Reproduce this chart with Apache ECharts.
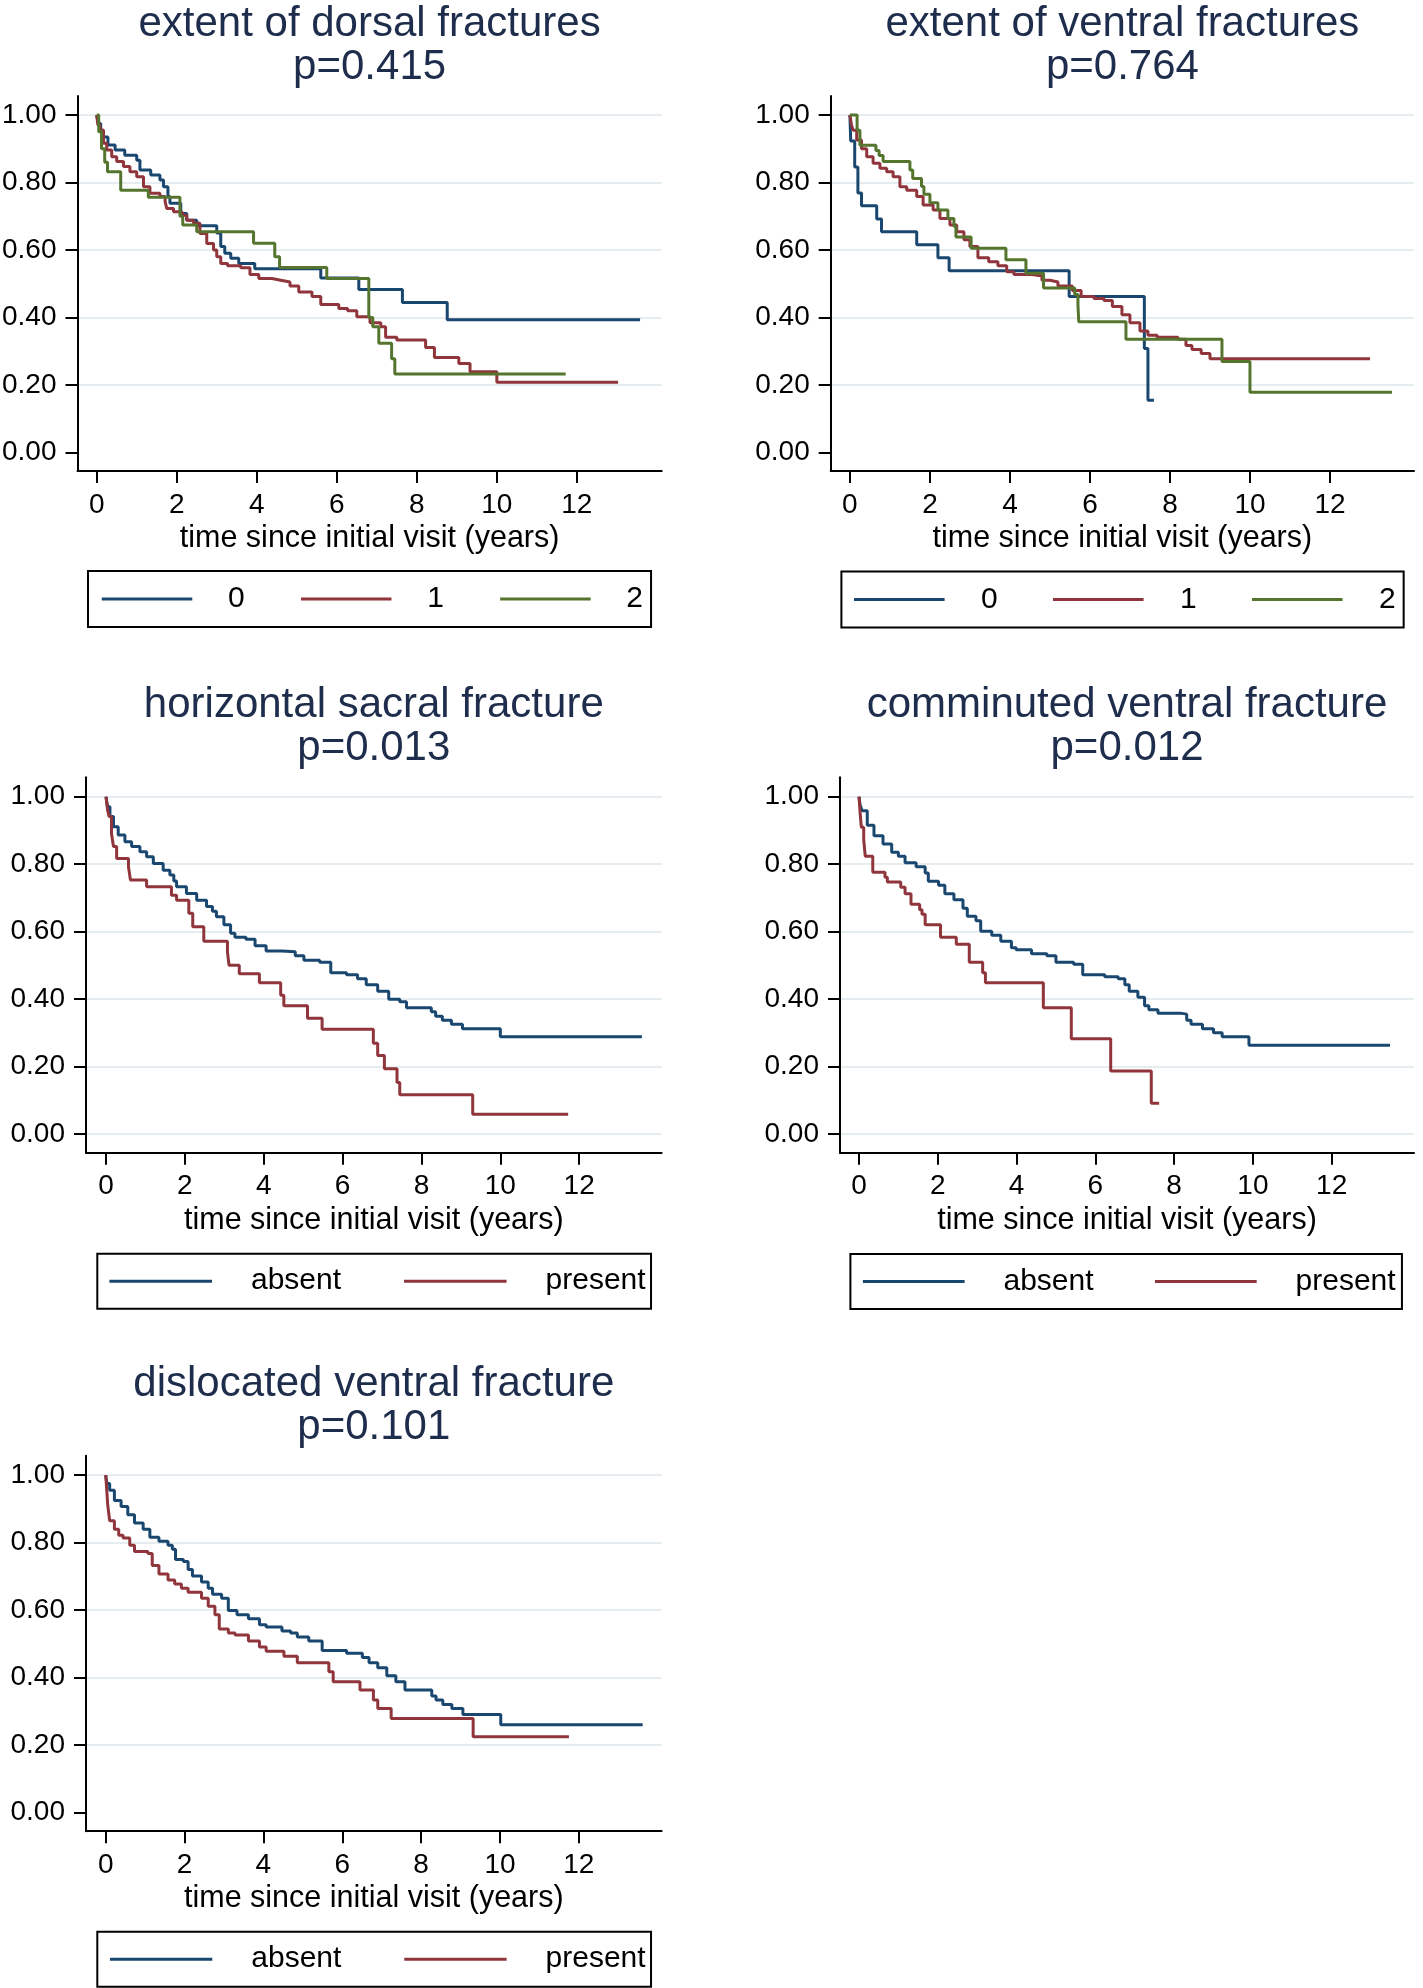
<!DOCTYPE html>
<html><head><meta charset="utf-8">
<script src="https://cdn.jsdelivr.net/npm/echarts@6/dist/echarts.min.js"></script>
<style>html,body{margin:0;padding:0;background:#fff}#c{width:1423px;height:1988px}</style>
</head><body><div id="c"></div>
<script>
// ===================== DATA =====================
const xTicks = [0, 2, 4, 6, 8, 10, 12];
const yTicks = [0, 0.2, 0.4, 0.6, 0.8, 1.0];
const xTitle = 'time since initial visit (years)';
const panelTitles = ['extent of dorsal fractures', 'extent of ventral fractures', 'horizontal sacral fracture', 'comminuted ventral fracture', 'dislocated ventral fracture'];
const pValues = ['p=0.415', 'p=0.764', 'p=0.013', 'p=0.012', 'p=0.101'];
const extentGroups = ['0', '1', '2'];
const presenceGroups = ['absent', 'present'];

// Kaplan-Meier estimates [time (years), survival]
const dorsal0 = [[0,1],[0.04,0.975],[0.1,0.955],[0.17,0.935],[0.28,0.911],[0.46,0.896],[0.7,0.881],[1.0,0.866],[1.08,0.837],[1.35,0.822],[1.58,0.807],[1.67,0.787],[1.78,0.758],[1.83,0.738],[2.1,0.708],[2.25,0.688],[2.5,0.672],[3.0,0.65],[3.1,0.61],[3.2,0.59],[3.35,0.575],[3.55,0.56],[3.95,0.544],[5.6,0.517],[6.55,0.483],[7.64,0.444],[8.76,0.393],[13.58,0.393]];
const dorsal1 = [[0,1],[0.03,0.97],[0.08,0.955],[0.17,0.916],[0.25,0.896],[0.375,0.876],[0.5,0.862],[0.67,0.847],[0.83,0.832],[1.0,0.817],[1.17,0.787],[1.33,0.768],[1.58,0.758],[1.71,0.743],[1.75,0.723],[1.92,0.713],[2.13,0.703],[2.25,0.688],[2.42,0.679],[2.58,0.649],[2.75,0.619],[2.92,0.60],[3.0,0.58],[3.1,0.56],[3.27,0.553],[3.6,0.547],[3.83,0.527],[4.05,0.515],[4.38,0.51],[4.6,0.505],[4.83,0.493],[5.05,0.475],[5.38,0.462],[5.6,0.438],[6.05,0.426],[6.27,0.42],[6.5,0.402],[6.83,0.384],[7.1,0.372],[7.22,0.341],[7.5,0.333],[8.22,0.311],[8.44,0.281],[9.05,0.263],[9.33,0.239],[10.0,0.208],[13.03,0.208]];
const dorsal2 = [[0,1],[0.05,0.95],[0.12,0.9],[0.2,0.86],[0.27,0.832],[0.6,0.777],[1.29,0.756],[2.08,0.70],[2.15,0.674],[2.5,0.654],[3.92,0.62],[4.45,0.58],[4.57,0.548],[5.75,0.515],[6.8,0.40],[6.9,0.372],[7.05,0.323],[7.37,0.277],[7.45,0.232],[11.72,0.232]];

const ventral0 = [[0,1],[0.02,0.923],[0.12,0.846],[0.2,0.769],[0.29,0.731],[0.67,0.692],[0.79,0.654],[1.67,0.615],[2.2,0.577],[2.48,0.538],[5.48,0.462],[7.36,0.308],[7.45,0.154],[7.6,0.154]];
const ventral1 = [[0,1],[0.04,0.97],[0.08,0.955],[0.17,0.926],[0.29,0.90],[0.42,0.876],[0.58,0.857],[0.75,0.842],[0.92,0.832],[1.08,0.817],[1.25,0.787],[1.42,0.777],[1.67,0.758],[1.83,0.733],[2.08,0.718],[2.25,0.693],[2.5,0.674],[2.67,0.654],[2.85,0.63],[3.0,0.61],[3.2,0.577],[3.47,0.565],[3.7,0.553],[3.92,0.535],[4.1,0.527],[4.55,0.523],[4.8,0.51],[5.0,0.505],[5.2,0.493],[5.56,0.48],[5.78,0.462],[6.1,0.456],[6.35,0.45],[6.56,0.432],[6.8,0.408],[7.0,0.384],[7.25,0.36],[7.45,0.347],[7.68,0.341],[8.2,0.335],[8.4,0.317],[8.55,0.305],[8.78,0.293],[9.0,0.277],[13.0,0.277]];
const ventral2 = [[0,1],[0.18,0.955],[0.25,0.91],[0.65,0.895],[0.73,0.88],[0.83,0.862],[1.5,0.837],[1.57,0.812],[1.79,0.788],[1.85,0.765],[2.0,0.74],[2.2,0.718],[2.45,0.693],[2.6,0.67],[2.65,0.638],[3.03,0.605],[3.9,0.571],[4.4,0.531],[4.84,0.487],[5.62,0.468],[5.7,0.438],[5.72,0.387],[6.9,0.335],[9.3,0.269],[10.0,0.178],[13.55,0.178]];

const sacralAbsent = [[0,1],[0.04,0.97],[0.1,0.941],[0.19,0.911],[0.31,0.886],[0.48,0.866],[0.65,0.852],[0.86,0.837],[1.03,0.822],[1.2,0.802],[1.45,0.782],[1.62,0.768],[1.72,0.75],[1.79,0.733],[2.04,0.713],[2.3,0.693],[2.55,0.674],[2.7,0.66],[2.8,0.644],[2.99,0.62],[3.16,0.595],[3.27,0.583],[3.55,0.577],[3.78,0.558],[4.06,0.542],[4.46,0.54],[4.8,0.528],[5.02,0.515],[5.42,0.509],[5.7,0.478],[6.1,0.472],[6.38,0.46],[6.6,0.442],[6.89,0.423],[7.17,0.399],[7.45,0.392],[7.62,0.374],[8.25,0.362],[8.36,0.349],[8.53,0.337],[8.76,0.325],[9.04,0.312],[10.0,0.288],[13.59,0.288]];
const sacralPresent = [[0,1],[0.04,0.96],[0.08,0.941],[0.14,0.89],[0.19,0.852],[0.27,0.817],[0.57,0.792],[0.62,0.753],[1.03,0.733],[1.66,0.708],[1.79,0.693],[2.1,0.654],[2.2,0.614],[2.48,0.571],[3.08,0.54],[3.12,0.50],[3.38,0.475],[3.89,0.448],[4.43,0.411],[4.51,0.38],[5.11,0.343],[5.48,0.31],[6.78,0.269],[6.89,0.232],[7.06,0.193],[7.38,0.152],[7.45,0.116],[9.3,0.058],[11.72,0.058]];

const comminutedAbsent = [[0,1],[0.03,0.975],[0.08,0.958],[0.21,0.915],[0.38,0.884],[0.61,0.86],[0.83,0.835],[1.0,0.823],[1.17,0.804],[1.45,0.792],[1.68,0.774],[1.76,0.749],[2.02,0.737],[2.18,0.712],[2.41,0.694],[2.64,0.669],[2.75,0.645],[2.97,0.632],[3.09,0.601],[3.37,0.589],[3.6,0.571],[3.87,0.552],[3.99,0.546],[4.38,0.534],[4.77,0.528],[5.0,0.509],[5.45,0.503],[5.68,0.472],[6.24,0.466],[6.58,0.46],[6.75,0.442],[6.86,0.423],[7.08,0.405],[7.25,0.38],[7.36,0.368],[7.59,0.358],[8.15,0.355],[8.32,0.337],[8.43,0.325],[8.72,0.312],[9.0,0.30],[9.22,0.288],[9.9,0.263],[13.48,0.263]];
const comminutedPresent = [[0,1],[0.03,0.95],[0.06,0.909],[0.12,0.872],[0.16,0.823],[0.35,0.776],[0.66,0.761],[0.72,0.747],[1.06,0.731],[1.17,0.712],[1.32,0.681],[1.54,0.665],[1.6,0.651],[1.68,0.62],[2.07,0.583],[2.47,0.562],[2.8,0.509],[3.14,0.478],[3.21,0.448],[4.68,0.374],[5.39,0.282],[6.39,0.186],[7.42,0.091],[7.62,0.091]];

const dislocatedAbsent = [[0,1],[0.03,0.975],[0.1,0.955],[0.22,0.925],[0.39,0.907],[0.56,0.883],[0.73,0.858],[0.95,0.84],[1.12,0.816],[1.35,0.804],[1.58,0.792],[1.69,0.78],[1.77,0.75],[1.97,0.744],[2.09,0.72],[2.2,0.701],[2.43,0.683],[2.6,0.665],[2.71,0.647],[2.94,0.635],[3.11,0.599],[3.33,0.586],[3.62,0.574],[3.9,0.556],[4.07,0.55],[4.47,0.538],[4.69,0.532],[4.86,0.52],[5.15,0.508],[5.49,0.48],[6.11,0.472],[6.51,0.459],[6.68,0.444],[6.9,0.429],[7.13,0.405],[7.36,0.387],[7.59,0.363],[8.27,0.345],[8.38,0.333],[8.55,0.32],[8.78,0.308],[9.06,0.29],[10.02,0.26],[13.62,0.26]];
const dislocatedPresent = [[0,1],[0.03,0.95],[0.05,0.913],[0.1,0.865],[0.22,0.84],[0.33,0.822],[0.44,0.814],[0.61,0.792],[0.73,0.774],[1.07,0.768],[1.18,0.732],[1.35,0.707],[1.58,0.689],[1.75,0.677],[1.92,0.665],[2.09,0.653],[2.43,0.635],[2.6,0.611],[2.77,0.586],[2.88,0.544],[3.11,0.532],[3.28,0.526],[3.62,0.508],[3.9,0.49],[4.07,0.478],[4.52,0.463],[4.86,0.444],[5.66,0.417],[5.77,0.387],[6.45,0.363],[6.79,0.333],[6.9,0.308],[7.24,0.278],[9.32,0.224],[11.75,0.224]];

// ===================== STYLE / LAYOUT =====================
const FONT = '"Liberation Sans", Arial, Helvetica, sans-serif';
const LINE_COLORS = ['#1a476f', '#90353b', '#55752f'];
const GRID_COLOR = '#e6edf0';
const TITLE_COLOR = '#1e2d4c';

const panels = [
  { grid:{left:77.5, top:96, width:584.2, height:375}, x:[-0.48,14.12], y:[-0.0554,1.0563],
    gridVals:[0.2,0.4,0.6,0.8,1.0], titleX:369.6, titleTop:3,
    names:extentGroups, data:[dorsal0, dorsal1, dorsal2],
    legend:{left:88, top:571, padding:[13,8,13,13.8], itemWidth:90.5, textPad:30.7, itemGap:56.3} },
  { grid:{left:830.7, top:96, width:583.3, height:375}, x:[-0.48,14.1], y:[-0.0554,1.0563],
    gridVals:[0.2,0.4,0.6,0.8,1.0], titleX:1122.4, titleTop:3,
    names:extentGroups, data:[ventral0, ventral1, ventral2],
    legend:{left:841.4, top:571.4, padding:[13,8,13,12.6], itemWidth:90.6, textPad:31.4, itemGap:55.3} },
  { grid:{left:86, top:777.3, width:575.6, height:375.4}, x:[-0.507,14.09], y:[-0.056,1.0575],
    gridVals:[0,0.2,0.4,0.6,0.8,1.0], titleX:373.8, titleTop:684,
    names:presenceGroups, data:[sacralAbsent, sacralPresent],
    legend:{left:97.3, top:1253.7, padding:[12.5,5.4,12.5,12.1], itemWidth:102.6, textPad:34, itemGap:62.9} },
  { grid:{left:840, top:777.3, width:574, height:375.4}, x:[-0.482,14.09], y:[-0.056,1.0575],
    gridVals:[0,0.2,0.4,0.6,0.8,1.0], titleX:1127, titleTop:684,
    names:presenceGroups, data:[comminutedAbsent, comminutedPresent],
    legend:{left:850.4, top:1254, padding:[12.5,6.3,12.5,12.5], itemWidth:101.7, textPad:33.9, itemGap:61.4} },
  { grid:{left:86, top:1455.8, width:575.6, height:375.4}, x:[-0.5,14.1], y:[-0.056,1.0575],
    gridVals:[0.2,0.4,0.6,0.8,1.0], titleX:373.8, titleTop:1363,
    names:presenceGroups, data:[dislocatedAbsent, dislocatedPresent],
    legend:{left:97.3, top:1931.7, padding:[12.5,5.4,12.5,12.7], itemWidth:102.3, textPad:34, itemGap:62.9} }
];

const option = { animation:false, backgroundColor:'#fff', textStyle:{fontFamily:FONT},
  title:[], grid:[], xAxis:[], yAxis:[], legend:[], series:[] };

panels.forEach((p, i) => {
  option.title.push({ text: panelTitles[i] + '\n' + pValues[i], left:p.titleX, top:p.titleTop,
    textAlign:'center', padding:0,
    textStyle:{ fontSize:42, lineHeight:43, fontWeight:'normal', color:TITLE_COLOR, fontFamily:FONT } });
  option.grid.push(Object.assign({ outerBoundsMode:'none', containLabel:false }, p.grid));
  option.xAxis.push({ type:'value', gridIndex:i, min:p.x[0], max:p.x[1],
    name:xTitle, nameLocation:'middle', nameGap:52,
    nameTextStyle:{ fontSize:30.5, color:'#000', fontFamily:FONT },
    axisLine:{ show:true, onZero:false, lineStyle:{ color:'#000', width:2 } },
    axisTick:{ show:true, customValues:xTicks, length:12, lineStyle:{ color:'#000', width:2 } },
    axisLabel:{ show:true, customValues:xTicks, margin:20, fontSize:28, color:'#000', fontFamily:FONT },
    splitLine:{ show:false } });
  option.yAxis.push({ type:'value', gridIndex:i, min:p.y[0], max:p.y[1],
    axisLine:{ show:true, onZero:false, lineStyle:{ color:'#000', width:2 } },
    axisTick:{ show:true, customValues:yTicks, length:12, lineStyle:{ color:'#000', width:2 } },
    axisLabel:{ show:true, customValues:yTicks, margin:21, fontSize:28, color:'#000', fontFamily:FONT,
      formatter: v => Number(v).toFixed(2) },
    splitLine:{ show:false } });
  // helper axis that only carries the light horizontal gridlines
  option.yAxis.push({ type:'value', gridIndex:i, min:p.y[0], max:p.y[1], position:'left',
    axisLine:{ show:false }, axisLabel:{ show:false },
    axisTick:{ show:false, customValues:p.gridVals },
    splitLine:{ show:true, lineStyle:{ color:GRID_COLOR, width:2 } } });
  option.legend.push({ left:p.legend.left, top:p.legend.top, orient:'horizontal',
    padding:p.legend.padding, itemWidth:p.legend.itemWidth, itemHeight:3, itemGap:p.legend.itemGap,
    icon:'rect', borderColor:'#000', borderWidth:2, backgroundColor:'#fff', selectedMode:false,
    data:p.names,
    textStyle:{ fontSize:30, lineHeight:20, color:'#000', fontFamily:FONT, padding:[10,0,0,p.legend.textPad] } });
  p.data.forEach((d, k) => {
    option.series.push({ type:'line', name:p.names[k], xAxisIndex:i, yAxisIndex:2*i, data:d,
      step:'end', showSymbol:false, symbol:'none', color:LINE_COLORS[k], z:3,
      itemStyle:{ color:LINE_COLORS[k] },
      lineStyle:{ color:LINE_COLORS[k], width:3 } });
  });
});

const chart = echarts.init(document.getElementById('c'), null, { renderer:'canvas' });
chart.setOption(option);
</script>
</body></html>
